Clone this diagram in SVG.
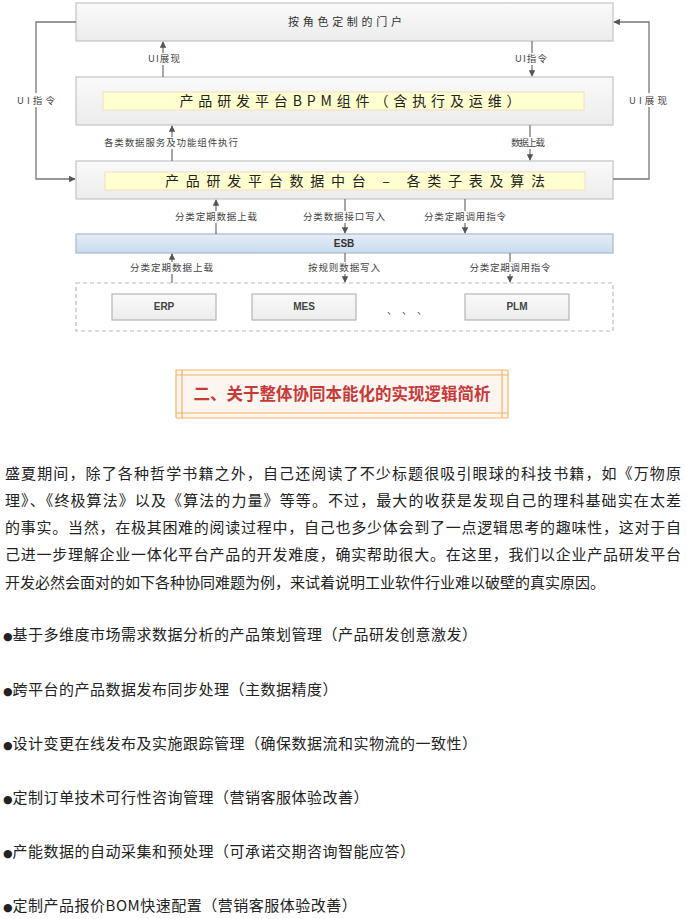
<svg xmlns="http://www.w3.org/2000/svg" width="687" height="919" viewBox="0 0 687 919">
<style>
.box{fill:url(#gbox);stroke:#c4c4c4;stroke-width:1.2}
.inner{fill:#ffffcf;stroke:#f6dcc0;stroke-width:1}
.esb{fill:url(#gesb);stroke:#a9b9c9;stroke-width:1.2}
.sys{fill:url(#gbox);stroke:#b5b5b5;stroke-width:1.2}
.cn{font-family:"Noto Sans CJK SC","Liberation Sans",sans-serif}
.lbl{font-size:9.5px;fill:#444;text-anchor:middle}
.big{font-size:14px;fill:#222;text-anchor:middle}
.wire{fill:none;stroke:#777;stroke-width:1.3}
.bg{fill:#fff}
.para{font-size:15px;fill:#222}
.bul{letter-spacing:0.5px}
.dot{font-family:"DejaVu Sans",sans-serif;font-size:11px;letter-spacing:0}
.hl{stroke:#f7b462;stroke-width:1.2;fill:none}
</style>
<defs>
<linearGradient id="gbox" x1="0" y1="0" x2="0" y2="1"><stop offset="0" stop-color="#fafafa"/><stop offset="1" stop-color="#ececec"/></linearGradient>
<linearGradient id="gesb" x1="0" y1="0" x2="0" y2="1"><stop offset="0" stop-color="#e4edf7"/><stop offset="1" stop-color="#c9dbee"/></linearGradient>
<marker id="ah" viewBox="0 0 10 10" refX="9" refY="5" markerWidth="5" markerHeight="5" orient="auto"><path d="M0,0 L10,5 L0,10 z" fill="#555"/></marker>
</defs>
<rect width="687" height="919" fill="#fff"/>

<g id="portal">
<rect class="box" x="76" y="3" width="537" height="38"/>
<text class="cn" x="345" y="26" font-size="11" fill="#333" text-anchor="middle" textLength="114" lengthAdjust="spacing">按角色定制的门户</text>
</g>
<g id="bpm">
<rect class="box" x="76" y="77" width="537" height="48"/>
<rect class="inner" x="103" y="92" width="481" height="18"/>
<text class="cn big" x="350" y="106" textLength="341" lengthAdjust="spacing">产品研发平台BPM组件（含执行及运维）</text>
</g>
<g id="datacenter">
<rect class="box" x="76" y="161" width="537" height="38"/>
<rect class="inner" x="105" y="172" width="480" height="18"/>
<text class="cn big" x="355" y="186" textLength="380" lengthAdjust="spacing">产品研发平台数据中台 – 各类子表及算法</text>
</g>
<g id="esb">
<rect class="esb" x="76" y="234" width="537" height="19"/>
<text x="344" y="247" font-family="Liberation Sans, sans-serif" font-size="10" font-weight="bold" fill="#333" text-anchor="middle">ESB</text>
</g>
<g id="systems">
<rect x="76" y="283" width="537" height="48" fill="none" stroke="#bbb" stroke-width="1.2" stroke-dasharray="4,3"/>
<g id="erp"><rect class="sys" x="112" y="294" width="104" height="26"/><text x="164" y="310" font-family="Liberation Sans, sans-serif" font-size="10" font-weight="bold" fill="#444" text-anchor="middle">ERP</text></g>
<g id="mes"><rect class="sys" x="252" y="294" width="104" height="26"/><text x="304" y="310" font-family="Liberation Sans, sans-serif" font-size="10" font-weight="bold" fill="#444" text-anchor="middle">MES</text></g>
<text class="cn" x="387" y="314" font-size="10" fill="#444" letter-spacing="10">、、、</text>
<g id="plm"><rect class="sys" x="465" y="294" width="104" height="26"/><text x="517" y="310" font-family="Liberation Sans, sans-serif" font-size="10" font-weight="bold" fill="#444" text-anchor="middle">PLM</text></g>
</g>

<g id="connectors">
<path class="wire" d="M76,22 H36 V179 H75" marker-end="url(#ah)"/>
<path class="wire" d="M613,179 H649 V22 H614" marker-end="url(#ah)"/>
<path class="wire" d="M163,77 V42" marker-end="url(#ah)"/>
<path class="wire" d="M532,41 V76" marker-end="url(#ah)"/>
<path class="wire" d="M172,161 V126" marker-end="url(#ah)"/>
<path class="wire" d="M530,125 V160" marker-end="url(#ah)"/>
<path class="wire" d="M216,234 V200" marker-end="url(#ah)"/>
<path class="wire" d="M345,199 V233" marker-end="url(#ah)"/>
<path class="wire" d="M465,199 V233" marker-end="url(#ah)"/>
<path class="wire" d="M172,283 V254" marker-end="url(#ah)"/>
<path class="wire" d="M345,253 V282" marker-end="url(#ah)"/>
<path class="wire" d="M510,253 V282" marker-end="url(#ah)"/>
<rect class="bg" x="15" y="93" width="42" height="14"/>
<text class="cn lbl" x="36" y="103.5" font-size="10" textLength="38" lengthAdjust="spacing">UI指令</text>
<rect class="bg" x="627" y="93" width="42" height="14"/>
<text class="cn lbl" x="648" y="103.5" font-size="10" textLength="38" lengthAdjust="spacing">UI展现</text>
<rect class="bg" x="147" y="53" width="34" height="12"/>
<text class="cn lbl" x="164" y="62" textLength="32" lengthAdjust="spacing">UI展现</text>
<rect class="bg" x="514" y="53" width="34" height="12"/>
<text class="cn lbl" x="531" y="62" textLength="32" lengthAdjust="spacing">UI指令</text>
<rect class="bg" x="103" y="137" width="136" height="12"/>
<text class="cn lbl" x="171" y="146" textLength="134" lengthAdjust="spacing">各类数据服务及功能组件执行</text>
<rect class="bg" x="509" y="137" width="38" height="12"/>
<text class="cn lbl" x="528" y="146" textLength="34" lengthAdjust="spacing">数据上载</text>
<rect class="bg" x="174" y="211" width="84" height="12"/>
<text class="cn lbl" x="216" y="220" textLength="82" lengthAdjust="spacing">分类定期数据上载</text>
<rect class="bg" x="303" y="211" width="84" height="12"/>
<text class="cn lbl" x="344" y="220" textLength="82" lengthAdjust="spacing">分类数据接口写入</text>
<rect class="bg" x="423" y="211" width="84" height="12"/>
<text class="cn lbl" x="465" y="220" textLength="82" lengthAdjust="spacing">分类定期调用指令</text>
<rect class="bg" x="129" y="262" width="86" height="12"/>
<text class="cn lbl" x="171.5" y="271" textLength="83" lengthAdjust="spacing">分类定期数据上载</text>
<rect class="bg" x="307" y="262" width="75" height="12"/>
<text class="cn lbl" x="344" y="271" textLength="72" lengthAdjust="spacing">按规则数据写入</text>
<rect class="bg" x="468" y="262" width="84" height="12"/>
<text class="cn lbl" x="510" y="271" textLength="81" lengthAdjust="spacing">分类定期调用指令</text>
</g>

<g id="heading">
<rect x="176" y="370" width="332" height="48" fill="#fcf5f0"/>
<path class="hl" d="M176,370 H508 M176,375 H508 M176,413 H508 M176,418 H508 M176,370 V418 M182,370 V418 M502,370 V418 M508,370 V418"/>
<text class="cn" x="342" y="400" font-size="16.5" font-weight="bold" fill="#c63a3a" text-anchor="middle" textLength="297" lengthAdjust="spacing">二、关于整体协同本能化的实现逻辑简析</text>
</g>

<g id="paragraph" class="cn para">
<text x="5" y="478.5" textLength="676" lengthAdjust="spacing">盛夏期间，除了各种哲学书籍之外，自己还阅读了不少标题很吸引眼球的科技书籍，如《万物原</text>
<text x="5" y="506" textLength="676" lengthAdjust="spacing">理》、《终极算法》以及《算法的力量》等等。不过，最大的收获是发现自己的理科基础实在太差</text>
<text x="5" y="533" textLength="676" lengthAdjust="spacing">的事实。当然，在极其困难的阅读过程中，自己也多少体会到了一点逻辑思考的趣味性，这对于自</text>
<text x="5" y="560" textLength="676" lengthAdjust="spacing">己进一步理解企业一体化平台产品的开发难度，确实帮助很大。在这里，我们以企业产品研发平台</text>
<text x="5" y="587.5">开发必然会面对的如下各种协同难题为例，来试着说明工业软件行业难以破壁的真实原因。</text>
</g>

<g id="bullets" class="cn para bul">
<text x="3" y="639.5"><tspan class="dot">●</tspan>基于多维度市场需求数据分析的产品策划管理（产品研发创意激发）</text>
<text x="3" y="694.5"><tspan class="dot">●</tspan>跨平台的产品数据发布同步处理（主数据精度）</text>
<text x="3" y="748.5"><tspan class="dot">●</tspan>设计变更在线发布及实施跟踪管理（确保数据流和实物流的一致性）</text>
<text x="3" y="803"><tspan class="dot">●</tspan>定制订单技术可行性咨询管理（营销客服体验改善）</text>
<text x="3" y="857"><tspan class="dot">●</tspan>产能数据的自动采集和预处理（可承诺交期咨询智能应答）</text>
<text x="3" y="911"><tspan class="dot">●</tspan>定制产品报价BOM快速配置（营销客服体验改善）</text>
</g>
</svg>
